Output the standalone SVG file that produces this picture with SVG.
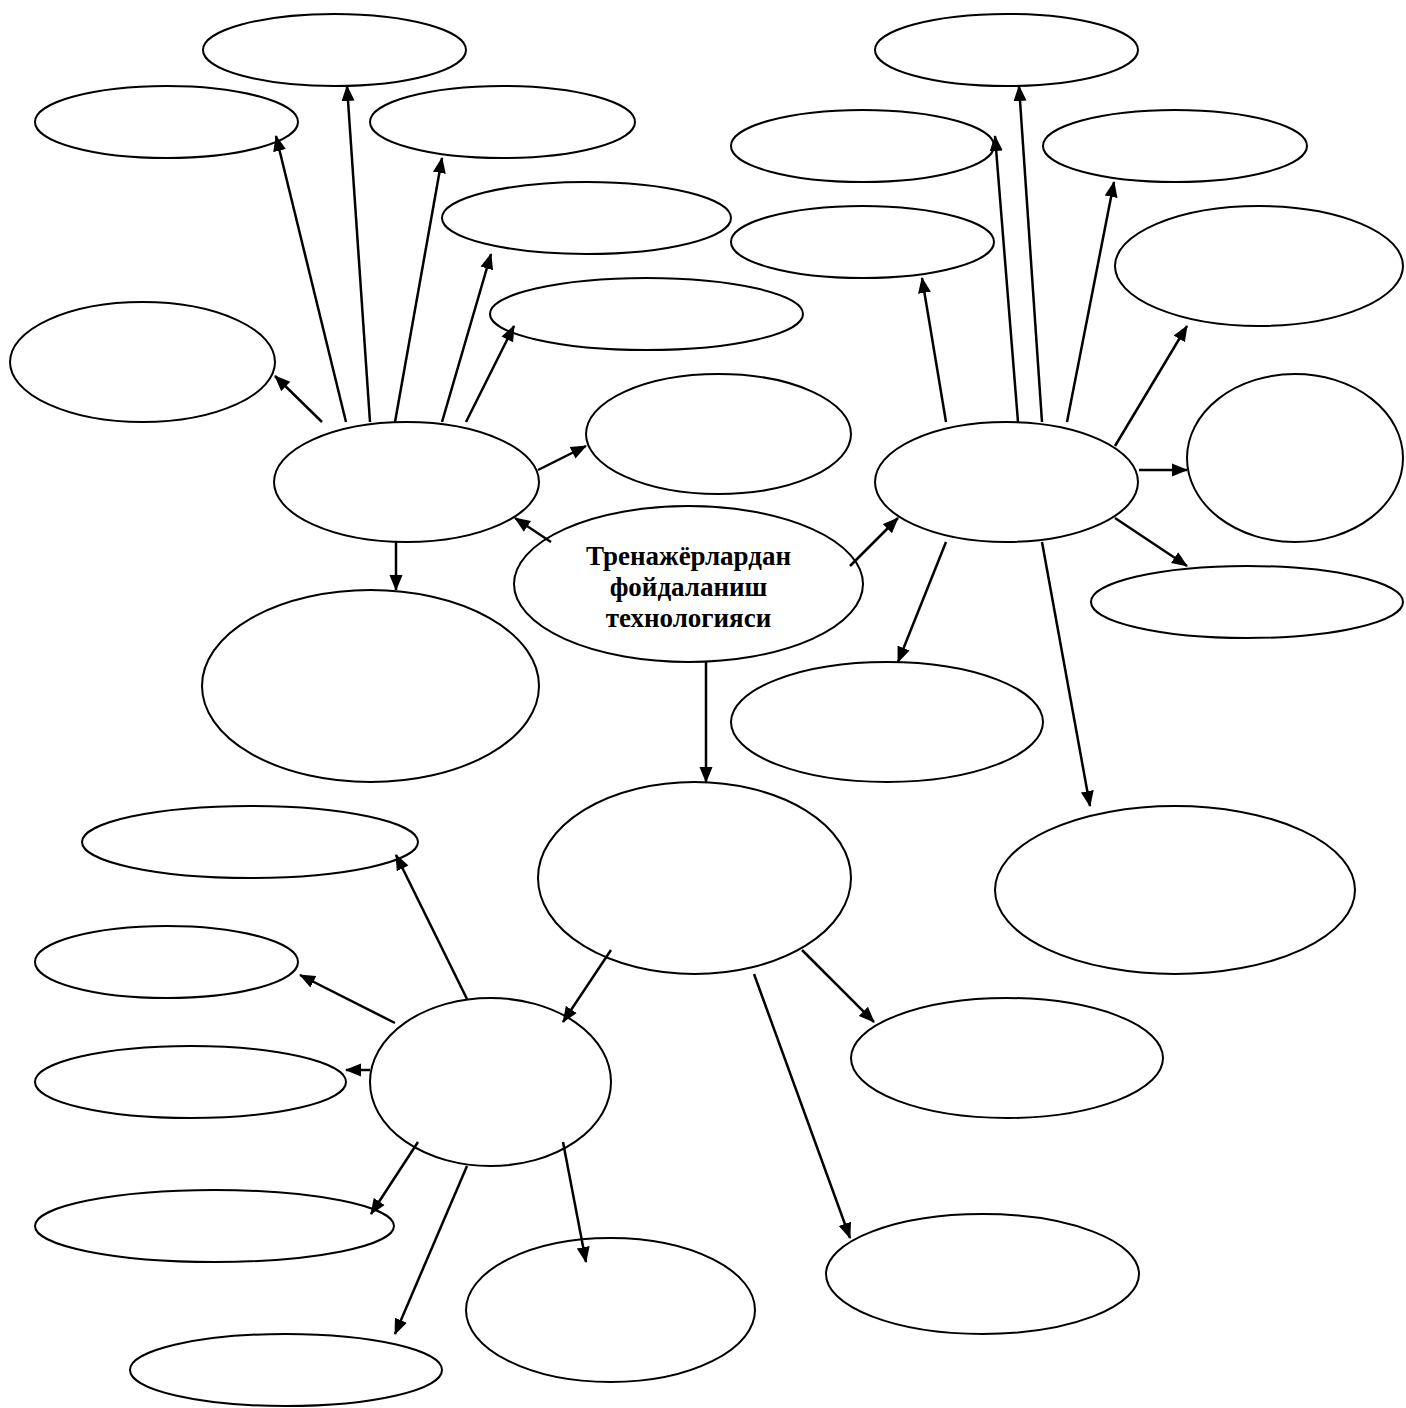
<svg xmlns="http://www.w3.org/2000/svg" width="1406" height="1408" viewBox="0 0 1406 1408">
<style>
.n{fill:#fff;stroke:#000;stroke-width:2}
.c line{stroke:#000;stroke-width:2.5;marker-end:url(#ah)}
.t{font-family:"Liberation Serif","Times New Roman",serif;font-weight:bold;font-size:27px;text-anchor:middle;fill:#000}
</style>
<defs>
<marker id="ah" markerUnits="userSpaceOnUse" markerWidth="16" markerHeight="14" refX="15" refY="7" orient="auto">
<path d="M0,0.5 L16,7 L0,13.5 z" fill="#000"/>
</marker>
</defs>
<rect width="1406" height="1408" fill="#fff"/>
<g id="nodes">
<g id="center"><ellipse class="n" cx="688.5" cy="584" rx="174.5" ry="78"/>
<text class="t" x="688.5" y="565">Тренажёрлардан</text>
<text class="t" x="688.5" y="596">фойдаланиш</text>
<text class="t" x="688.5" y="627">технологияси</text></g>
<g id="hubL"><ellipse class="n" cx="406.5" cy="482" rx="132.5" ry="60"/></g>
<g id="L1"><ellipse class="n" cx="334.5" cy="50" rx="131.5" ry="36"/></g>
<g id="L2"><ellipse class="n" cx="166.5" cy="122" rx="131.5" ry="36"/></g>
<g id="L3"><ellipse class="n" cx="502.5" cy="122" rx="132.5" ry="36"/></g>
<g id="L4"><ellipse class="n" cx="586.5" cy="218" rx="144.5" ry="36"/></g>
<g id="L5"><ellipse class="n" cx="646.5" cy="314" rx="156.5" ry="36"/></g>
<g id="L6"><ellipse class="n" cx="142.5" cy="362" rx="132.5" ry="60"/></g>
<g id="L7"><ellipse class="n" cx="718.5" cy="434" rx="132.5" ry="60"/></g>
<g id="L8"><ellipse class="n" cx="370.5" cy="686" rx="168.5" ry="96"/></g>
<g id="hubR"><ellipse class="n" cx="1006.5" cy="482" rx="131.5" ry="60"/></g>
<g id="R1"><ellipse class="n" cx="1006.5" cy="50" rx="131.5" ry="36"/></g>
<g id="R2"><ellipse class="n" cx="862.5" cy="146" rx="131.5" ry="36"/></g>
<g id="R3"><ellipse class="n" cx="1175" cy="146" rx="132" ry="36"/></g>
<g id="R4"><ellipse class="n" cx="862.5" cy="242" rx="131.5" ry="36"/></g>
<g id="R5"><ellipse class="n" cx="1259" cy="266" rx="144" ry="60"/></g>
<g id="R6"><ellipse class="n" cx="1295" cy="458" rx="108" ry="84"/></g>
<g id="R7"><ellipse class="n" cx="1247" cy="602" rx="156" ry="36"/></g>
<g id="R8"><ellipse class="n" cx="887" cy="722" rx="156" ry="60"/></g>
<g id="R9"><ellipse class="n" cx="1175" cy="890" rx="180" ry="84"/></g>
<g id="hubB"><ellipse class="n" cx="694.5" cy="878" rx="156.5" ry="96"/></g>
<g id="B1"><ellipse class="n" cx="1007" cy="1058" rx="156" ry="60"/></g>
<g id="B2"><ellipse class="n" cx="982.5" cy="1274" rx="156.5" ry="60"/></g>
<g id="hubBL"><ellipse class="n" cx="490.5" cy="1082" rx="120.5" ry="84"/></g>
<g id="BL1"><ellipse class="n" cx="250" cy="842" rx="168" ry="36"/></g>
<g id="BL2"><ellipse class="n" cx="166.5" cy="962" rx="131.5" ry="36"/></g>
<g id="BL3"><ellipse class="n" cx="190.5" cy="1082" rx="155.5" ry="36"/></g>
<g id="BL4"><ellipse class="n" cx="214.5" cy="1226" rx="179.5" ry="36"/></g>
<g id="BL5"><ellipse class="n" cx="610.5" cy="1310" rx="144.5" ry="72"/></g>
<g id="BL6"><ellipse class="n" cx="286" cy="1370" rx="156" ry="36"/></g>
</g>
<g id="connectors" class="c">
<line x1="551" y1="542" x2="515" y2="518"/>
<line x1="850" y1="566" x2="898" y2="518"/>
<line x1="706" y1="662" x2="706" y2="782"/>
<line x1="322" y1="422" x2="275" y2="376"/>
<line x1="346" y1="422" x2="276" y2="136"/>
<line x1="370" y1="422" x2="347" y2="86"/>
<line x1="395" y1="422" x2="442" y2="158"/>
<line x1="442" y1="422" x2="491" y2="254"/>
<line x1="466" y1="422" x2="514" y2="326"/>
<line x1="538" y1="470" x2="586" y2="446"/>
<line x1="396" y1="542" x2="396" y2="590"/>
<line x1="946" y1="422" x2="922" y2="278"/>
<line x1="1018" y1="422" x2="995" y2="136"/>
<line x1="1042" y1="422" x2="1019" y2="86"/>
<line x1="1067" y1="422" x2="1114" y2="182"/>
<line x1="1115" y1="446" x2="1187" y2="326"/>
<line x1="1139" y1="470" x2="1187" y2="470"/>
<line x1="1115" y1="518" x2="1187" y2="566"/>
<line x1="946" y1="542" x2="898" y2="662"/>
<line x1="1042" y1="542" x2="1090" y2="806"/>
<line x1="611" y1="950" x2="563" y2="1022"/>
<line x1="802" y1="950" x2="874" y2="1022"/>
<line x1="754" y1="974" x2="850" y2="1238"/>
<line x1="467" y1="999" x2="396" y2="855"/>
<line x1="395" y1="1023" x2="300" y2="975"/>
<line x1="370" y1="1070" x2="346" y2="1070"/>
<line x1="418" y1="1142" x2="371" y2="1214"/>
<line x1="467" y1="1166" x2="395" y2="1334"/>
<line x1="563" y1="1142" x2="586" y2="1262"/>
</g>
</svg>
